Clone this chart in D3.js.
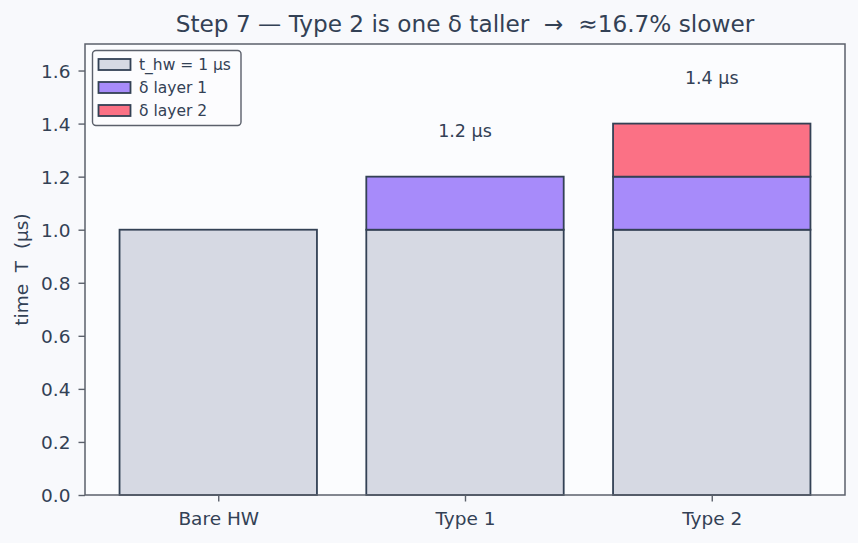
<!DOCTYPE html>
<html>
<head>
<meta charset="utf-8">
<script src="https://cdn.jsdelivr.net/npm/d3@7"></script>
<style>
  html, body { margin: 0; padding: 0; background: #f8f9fc; }
  svg { display: block; font-family: "DejaVu Sans", sans-serif; }
  text { white-space: pre; }
</style>
</head>
<body>
<svg id="chart" width="858" height="543"></svg>
<script>
// ---- data ----
const categories = ["Bare HW", "Type 1", "Type 2"];
const seriesNames = ["t_hw = 1 µs", "δ layer 1", "δ layer 2"];
const hwValues = [1.0, 1.0, 1.0];
const delta1Values = [0.0, 0.2, 0.2];
const delta2Values = [0.0, 0.0, 0.2];
const totalLabels = [null, "1.2 µs", "1.4 µs"];
const yTicks = [0.0, 0.2, 0.4, 0.6, 0.8, 1.0, 1.2, 1.4, 1.6];
const titleText = "Step 7 — Type 2 is one δ taller  →  ≈16.7% slower";
const yLabelText = "time  T  (µs)";

// ---- layout ----
const W = 858, H = 543;
const m = { left: 85, right: 13, top: 44, bottom: 48 };
const iw = W - m.left - m.right, ih = H - m.top - m.bottom;
const colors = ["#d6d9e3", "#a78bfa", "#fb7185"];
const edge = "#334155";
const textCol = "#334155";
const spineCol = "#5b606b";
const tickFont = 18.5;

const svg = d3.select("#chart");
svg.append("rect").attr("width", W).attr("height", H).attr("fill", "#f8f9fc");

const g = svg.append("g").attr("transform", `translate(${m.left},${m.top})`);
g.append("rect").attr("width", iw).attr("height", ih).attr("fill", "#fbfcfe");

// x scale: bars at 0,1,2 width 0.8, xlim -0.54..2.54
const xl = d3.scaleLinear().domain([-0.54, 2.54]).range([0, iw]);
const barW = 0.8;
const y = d3.scaleLinear().domain([0, 1.7]).range([ih, 0]);

// stacked data
const stackRows = categories.map((c, i) => ({ cat: i, a: hwValues[i], b: delta1Values[i], c: delta2Values[i] }));
const stack = d3.stack().keys(["a", "b", "c"])(stackRows);

stack.forEach((layer, li) => {
  g.append("g").selectAll("rect")
    .data(layer.filter(d => d[1] - d[0] > 0))
    .join("rect")
    .attr("x", d => xl(d.data.cat - barW / 2))
    .attr("width", d => xl(barW) - xl(0))
    .attr("y", d => y(d[1]))
    .attr("height", d => y(d[0]) - y(d[1]))
    .attr("fill", colors[li])
    .attr("stroke", edge)
    .attr("stroke-width", 1.8);
});

// value labels
g.append("g").selectAll("text")
  .data(categories.map((c, i) => ({ i, total: hwValues[i] + delta1Values[i] + delta2Values[i], label: totalLabels[i] })).filter(d => d.label))
  .join("text")
  .attr("x", d => xl(d.i))
  .attr("y", d => y(d.total + 0.15) + 0.5)
  .attr("text-anchor", "middle")
  .attr("font-size", 17.5)
  .attr("fill", textCol)
  .text(d => d.label);

// axes
const xAxis = d3.axisBottom(xl).tickValues([0, 1, 2]).tickFormat(i => categories[i]).tickSize(6.5);
const gx = g.append("g").attr("transform", `translate(0,${ih})`).call(xAxis);
const yAxis = d3.axisLeft(y).tickValues(yTicks).tickFormat(d3.format(".1f")).tickSize(6.5).tickPadding(8);
const gy = g.append("g").call(yAxis);
[gx, gy].forEach(ax => {
  ax.select(".domain").remove();
  ax.selectAll(".tick line").attr("stroke", spineCol).attr("stroke-width", 1.4);
  ax.selectAll(".tick text").attr("fill", textCol).attr("font-size", tickFont).attr("font-family", "DejaVu Sans");
});
gx.selectAll(".tick text").attr("dy", null).attr("y", 29.5);
gy.selectAll(".tick text").attr("dy", "0.36em");

// spines (frame)
g.append("rect").attr("width", iw).attr("height", ih)
  .attr("fill", "none").attr("stroke", spineCol).attr("stroke-width", 1.5);

// title
svg.append("text").attr("x", m.left + iw / 2).attr("y", 32)
  .attr("text-anchor", "middle").attr("font-size", 23.2).attr("fill", textCol).text(titleText);

// y label
svg.append("text").attr("transform", `translate(28,${m.top + ih / 2}) rotate(-90)`)
  .attr("text-anchor", "middle").attr("font-size", tickFont).attr("fill", textCol).text(yLabelText);

// legend
const lg = svg.append("g").attr("transform", "translate(92.5,50.5)");
lg.append("rect").attr("width", 148.5).attr("height", 75).attr("rx", 3.5)
  .attr("fill", "#fbfcfe").attr("fill-opacity", 0.85).attr("stroke", spineCol).attr("stroke-width", 1.4);
seriesNames.forEach((name, i) => {
  const row = lg.append("g").attr("transform", `translate(0,${14 + i * 23})`);
  row.append("rect").attr("x", 6).attr("y", -5.5).attr("width", 32).attr("height", 11)
    .attr("fill", colors[i]).attr("stroke", edge).attr("stroke-width", 1.8);
  row.append("text").attr("x", 46.5).attr("y", 5.5).attr("font-size", 15.5)
    .attr("fill", textCol).text(name);
});
</script>
</body>
</html>
